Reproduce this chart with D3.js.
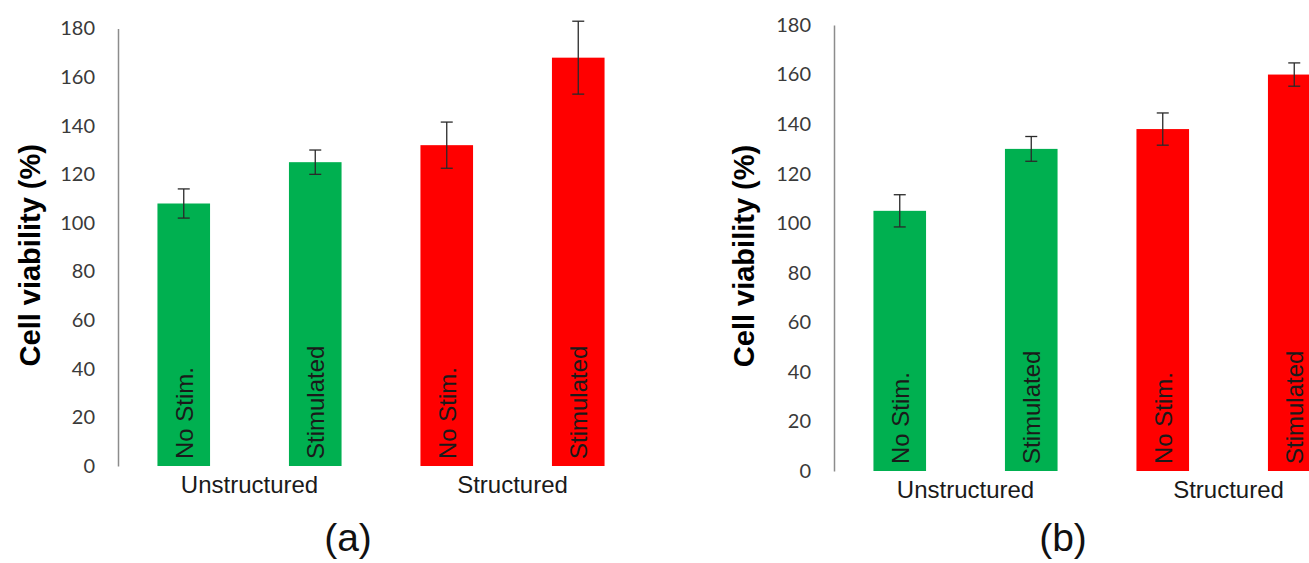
<!DOCTYPE html>
<html>
<head>
<meta charset="utf-8">
<script src="https://cdn.jsdelivr.net/npm/d3@7"></script>
<style>
  body { margin: 0; background: #fff; }
  svg { display: block; }
</style>
</head>
<body>
<div id="chart"></div>
<script>
// Data
const groups = ["Unstructured", "Structured"];
const barGroups = ["Unstructured", "Unstructured", "Structured", "Structured"];
const barLabels = ["No Stim.", "Stimulated", "No Stim.", "Stimulated"];
const colors = { "Unstructured": "#00b050", "Structured": "#ff0000" };

const valuesA = [108, 125, 132, 168];
const errorsA = [6, 5, 9.5, 15];
const valuesB = [105, 130, 138, 160];
const errorsB = [6.5, 5, 6.5, 4.7];

const yTicks = [0, 20, 40, 60, 80, 100, 120, 140, 160, 180];

const width = 1309, height = 563;

const svg = d3.select("#chart")
  .append("svg")
  .attr("width", width)
  .attr("height", height);

// Panel positions: left axis x, pixel y of 0 and of 180
const panels = [
  { values: valuesA, errors: errorsA, x0: 118, yBottom: 466, yTop: 28.5, tag: "(a)", tagX: 348, titleX: 30 },
  { values: valuesB, errors: errorsB, x0: 834, yBottom: 471, yTop: 25, tag: "(b)", tagX: 1063, titleX: 744 }
];

panels.forEach(p => drawPanel(p));

function drawPanel(p) {
  const g = svg.append("g");
  const ids = d3.range(p.values.length);

  const x = d3.scaleBand()
    .domain(ids)
    .range([p.x0, p.x0 + 4 * 131.5])
    .paddingInner(0.6)
    .paddingOuter(0.3);

  const y = d3.scaleLinear()
    .domain([0, 180])
    .range([p.yBottom, p.yTop]);

  // Y axis (no tick marks, Excel style)
  const axis = g.append("g")
    .attr("transform", "translate(" + p.x0 + ",0)")
    .call(d3.axisLeft(y).tickValues(yTicks).tickSize(0).tickPadding(23));
  axis.select(".domain")
    .attr("stroke", "#8c8c8c")
    .attr("stroke-width", 1.5);
  axis.selectAll("text")
    .attr("fill", "#3a3a3a")
    .style("font-family", "Lato, 'Open Sans', sans-serif")
    .style("font-size", "20px");

  // Bars
  g.selectAll(".bar")
    .data(ids)
    .enter()
    .append("rect")
    .attr("x", i => x(i))
    .attr("y", i => y(p.values[i]))
    .attr("width", x.bandwidth())
    .attr("height", i => y(0) - y(p.values[i]))
    .attr("fill", i => colors[barGroups[i]]);

  // Error bars
  const cap = 6;
  const err = g.selectAll(".err")
    .data(ids)
    .enter()
    .append("g")
    .attr("stroke", "#2a2a2a")
    .attr("stroke-width", 1.3);
  err.append("line")
    .attr("x1", i => x(i) + x.bandwidth() / 2)
    .attr("x2", i => x(i) + x.bandwidth() / 2)
    .attr("y1", i => y(p.values[i] + p.errors[i]))
    .attr("y2", i => y(p.values[i] - p.errors[i]));
  err.append("line")
    .attr("x1", i => x(i) + x.bandwidth() / 2 - cap)
    .attr("x2", i => x(i) + x.bandwidth() / 2 + cap)
    .attr("y1", i => y(p.values[i] + p.errors[i]))
    .attr("y2", i => y(p.values[i] + p.errors[i]));
  err.append("line")
    .attr("x1", i => x(i) + x.bandwidth() / 2 - cap)
    .attr("x2", i => x(i) + x.bandwidth() / 2 + cap)
    .attr("y1", i => y(p.values[i] - p.errors[i]))
    .attr("y2", i => y(p.values[i] - p.errors[i]));

  // Rotated labels inside bars
  g.selectAll(".inlabel")
    .data(ids)
    .enter()
    .append("text")
    .attr("transform", i => "translate(" + (x(i) + x.bandwidth() / 2 + 9) + "," + (y(0) - 7) + ")rotate(-90)")
    .attr("text-anchor", "start")
    .attr("fill", "#1a1a1a")
    .style("font-family", "'Liberation Sans', Arial, sans-serif")
    .style("font-size", "24px")
    .text(i => barLabels[i]);

  // Group labels under bars
  g.selectAll(".grp")
    .data(groups)
    .enter()
    .append("text")
    .attr("x", (d, k) => (x(2 * k) + x(2 * k + 1) + x.bandwidth()) / 2)
    .attr("y", y(0) + 27)
    .attr("text-anchor", "middle")
    .attr("fill", "#1a1a1a")
    .style("font-family", "'Liberation Sans', Arial, sans-serif")
    .style("font-size", "24px")
    .text(d => d);

  // Y title
  g.append("text")
    .attr("transform", "translate(" + (p.titleX + 10) + "," + ((p.yBottom + p.yTop) / 2 + 8) + ")rotate(-90)")
    .attr("text-anchor", "middle")
    .attr("fill", "#000")
    .style("font-family", "'Liberation Sans', Arial, sans-serif")
    .style("font-weight", "bold")
    .style("font-size", "29px")
    .text("Cell viability (%)");

  // Panel tag
  g.append("text")
    .attr("x", p.tagX)
    .attr("y", 551)
    .attr("text-anchor", "middle")
    .attr("fill", "#111")
    .style("font-family", "'Liberation Sans', Arial, sans-serif")
    .style("font-size", "39px")
    .text(p.tag);
}
</script>
</body>
</html>
